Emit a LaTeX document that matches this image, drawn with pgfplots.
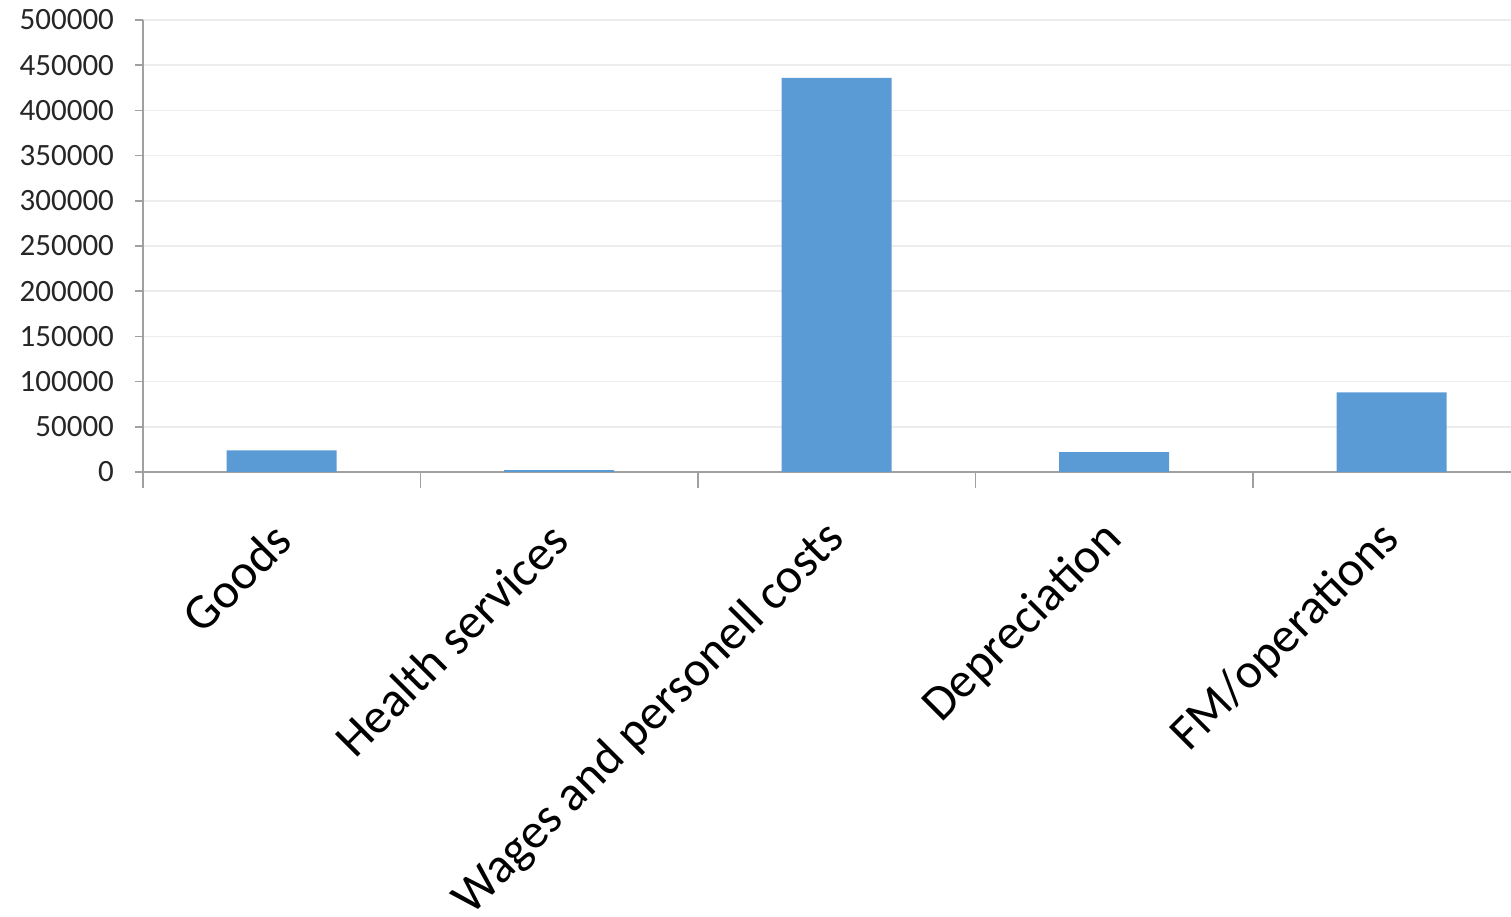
\documentclass[border=0pt]{standalone}
\usepackage{fontspec}
\setmainfont{Carlito}
\usepackage{pgfplots}
\pgfplotsset{compat=1.18}
\definecolor{barblue}{HTML}{5B9BD5}
\definecolor{axgray}{HTML}{A0A0A0}
\definecolor{gridgray}{HTML}{EDEDED}
\begin{document}
\begin{tikzpicture}
\begin{axis}[
  scale only axis, width=684pt, height=226pt,
  xmin=-0.5, xmax=4.43, ymin=0, ymax=500000,
  axis x line=bottom, axis y line=left,
  axis line style={-, axgray, line width=0.8pt},
  ytick={0,50000,...,500000},
  scaled y ticks=false,
  /pgf/number format/assume math mode=true,
  yticklabel style={/pgf/number format/fixed, /pgf/number format/1000 sep={},
    font=\fontsize{15.5}{18}\selectfont, text=black!85, xshift=-7pt},
  ymajorgrids, major grid style={gridgray, line width=0.8pt},
  major y tick style={axgray, line width=0.8pt},
  major tick length=4pt,
  ytick align=outside,
  xtick={0,1,2,3,4},
  xticklabels={Goods, Health services, Wages and personell costs, Depreciation, FM/operations},
  major x tick style={draw=none},
  minor xtick={-0.5,0.5,1.5,2.5,3.5},
  minor x tick style={axgray, line width=0.8pt},
  minor tick length=8pt,
  xtick align=outside,
  xticklabel style={xshift=2.7pt, yshift=-23.5pt, rotate=45, anchor=east, font=\fontsize{24.8}{29}\selectfont, text=black},
  clip=false,
]
\addplot[ybar, bar width=55pt, bar shift=0pt, fill=barblue, draw=none]
  coordinates {(0,24000) (1,2000) (2,436000) (3,22000) (4,88000)};
\coordinate (bl) at (rel axis cs:0,0);
\coordinate (tr) at (rel axis cs:1,1);
\end{axis}
\pgfresetboundingbox
\path ([xshift=-71.5pt,yshift=-222.5pt]bl) rectangle ([yshift=10pt]tr);
\end{tikzpicture}
\end{document}
